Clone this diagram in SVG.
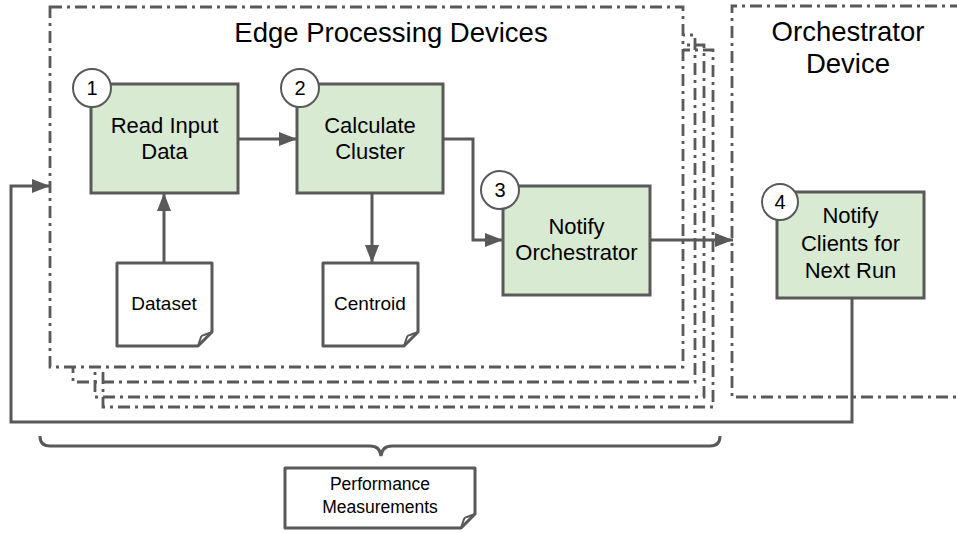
<svg xmlns="http://www.w3.org/2000/svg" width="957" height="533" viewBox="0 0 957 533">
<defs>
<style>
.frame{fill:none;stroke:#595959;stroke-width:2.8;stroke-dasharray:12 5 3 5}
.front{fill:#fff;stroke:#595959;stroke-width:2.8;stroke-dasharray:12 5 3 5}
.box{fill:#d9ead3;stroke:#595959;stroke-width:3}
.doc{fill:#fff;stroke:#595959;stroke-width:3;stroke-linejoin:round}
.fold{fill:none;stroke:#595959;stroke-width:2;stroke-linejoin:round}
.num{fill:#fff;stroke:#595959;stroke-width:2}
.conn{fill:none;stroke:#595959;stroke-width:3}
text{font-family:"Liberation Sans",Arial,sans-serif;fill:#000;text-anchor:middle}
.t{font-size:22px}
.title{font-size:27.5px}
.d{font-size:19px}
.n{font-size:20px}
.p{font-size:17.5px}
</style>
<marker id="ah" viewBox="0 0 18 14" refX="18" refY="7" markerWidth="18" markerHeight="14" markerUnits="userSpaceOnUse" orient="auto">
<path d="M0,0 L18,7 L0,14 Z" fill="#595959"/>
</marker>
</defs>

<g id="edge-devices">
<rect class="frame" x="103" y="50" width="610" height="357"/>
<rect class="frame" x="95" y="45" width="609" height="352"/>
<rect class="frame" x="73" y="35" width="622" height="347"/>
<rect class="front" x="50" y="7" width="633" height="360"/>
<text class="title" x="391" y="42">Edge Processing Devices</text>
</g>

<g id="orchestrator-device">
<path class="frame" d="M962,6 H732 V397 H962"/>
<text class="title" x="848" y="41">Orchestrator</text>
<text class="title" x="848" y="73">Device</text>
</g>

<g id="connectors">
<path class="conn" d="M238,139 H297" marker-end="url(#ah)"/>
<path class="conn" d="M443,139 H473 V240 H503" marker-end="url(#ah)"/>
<path class="conn" d="M650,240 H733" marker-end="url(#ah)"/>
<path class="conn" d="M164,263 V193" marker-end="url(#ah)"/>
<path class="conn" d="M372,193 V263" marker-end="url(#ah)"/>
<path class="conn" d="M852,298 V422 H11 V186 H50" marker-end="url(#ah)"/>
<path class="conn" d="M40,436 Q40,446 50,446 H370 Q380,446 381,456 Q382,446 392,446 H710 Q720,446 720,436"/>
</g>

<g id="read-input">
<rect class="box" x="91" y="84" width="147" height="109"/>
<circle class="num" cx="92" cy="88" r="19"/>
<text class="n" x="92" y="95">1</text>
<text class="t" x="164.5" y="133">Read Input</text>
<text class="t" x="164.5" y="159">Data</text>
</g>

<g id="calculate-cluster">
<rect class="box" x="297" y="84" width="146" height="109"/>
<circle class="num" cx="300" cy="88" r="19"/>
<text class="n" x="300" y="95">2</text>
<text class="t" x="370" y="133">Calculate</text>
<text class="t" x="370" y="159">Cluster</text>
</g>

<g id="notify-orchestrator">
<rect class="box" x="503" y="186" width="147" height="109"/>
<circle class="num" cx="500" cy="190" r="19"/>
<text class="n" x="500" y="197">3</text>
<text class="t" x="576.5" y="234">Notify</text>
<text class="t" x="576.5" y="260">Orchestrator</text>
</g>

<g id="notify-clients">
<rect class="box" x="777" y="192" width="147" height="106"/>
<circle class="num" cx="780" cy="202" r="18"/>
<text class="n" x="780" y="209">4</text>
<text class="t" x="850.5" y="223">Notify</text>
<text class="t" x="850.5" y="251">Clients for</text>
<text class="t" x="850.5" y="278">Next Run</text>
</g>

<g id="dataset">
<path class="doc" d="M117,263 H212 V332 L198,346 H117 Z"/>
<path class="fold" d="M198,346 L201,337 Q202,335 204,335 L212,332"/>
<text class="d" x="164" y="310">Dataset</text>
</g>

<g id="centroid">
<path class="doc" d="M323,263 H418 V332 L404,346 H323 Z"/>
<path class="fold" d="M404,346 L407,337 Q408,335 410,335 L418,332"/>
<text class="d" x="370" y="310">Centroid</text>
</g>

<g id="performance-measurements">
<path class="doc" d="M285,468 H475 V514 L461,528 H285 Z"/>
<path class="fold" d="M461,528 L464,519 Q465,517 467,517 L475,514"/>
<text class="p" x="380" y="490">Performance</text>
<text class="p" x="380" y="513">Measurements</text>
</g>
</svg>
